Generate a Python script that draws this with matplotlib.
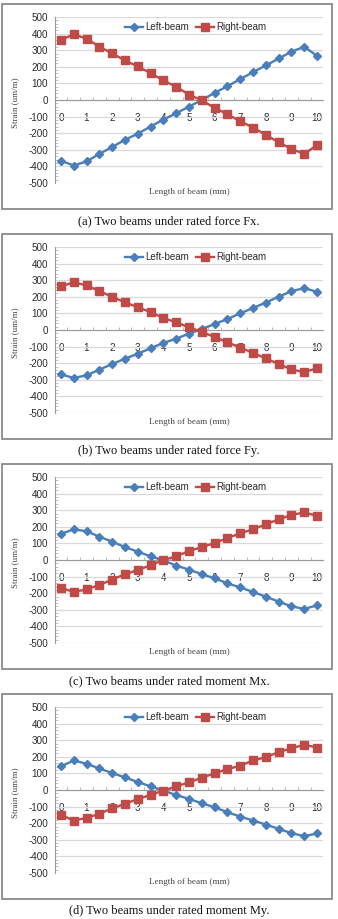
import matplotlib
matplotlib.use("Agg")
import matplotlib.pyplot as plt
from matplotlib.patches import Rectangle
from matplotlib.ticker import MultipleLocator, FixedLocator

# ---------------- data ----------------
positions = [0, 0.5, 1, 1.5, 2, 2.5, 3, 3.5, 4, 4.5, 5, 5.5, 6, 6.5, 7, 7.5, 8, 8.5, 9, 9.5, 10]

fx_left = [-365, -395, -370, -325, -283, -240, -203, -160, -118, -80, -40, 0,
           43, 83, 126, 168, 208, 250, 291, 321, 265]
fx_right = [362, 395, 370, 321, 281, 238, 202, 162, 118, 79, 33, -3,
            -47, -86, -128, -166, -210, -255, -295, -325, -271]

fy_left = [-267, -289, -273, -239, -205, -173, -143, -110, -78, -52, -22, 6,
           36, 66, 100, 133, 165, 201, 233, 253, 229]
fy_right = [263, 287, 269, 235, 199, 167, 137, 108, 72, 46, 16, -12,
            -42, -74, -106, -138, -171, -205, -237, -255, -229]

mx_left = [157, 185, 173, 141, 110, 78, 50, 22, -2, -34, -58, -86,
           -110, -141, -165, -193, -221, -251, -279, -295, -273]
mx_right = [-167, -193, -177, -151, -118, -86, -60, -32, 0, 22, 54, 78,
            102, 132, 161, 185, 215, 245, 271, 287, 265]

my_left = [142, 178, 158, 130, 102, 76, 48, 22, -4, -30, -54, -80,
           -104, -134, -160, -184, -208, -234, -260, -278, -262]
my_right = [-150, -184, -168, -144, -110, -84, -54, -30, -4, 22, 46, 74,
            100, 126, 146, 178, 198, 228, 252, 272, 256]

x_tick_labels = ["0", "1", "2", "3", "4", "5", "6", "7", "8", "9", "10"]
y_ticks = [-500, -400, -300, -200, -100, 0, 100, 200, 300, 400, 500]

series_names = ["Left-beam", "Right-beam"]
captions = ["(a) Two beams under rated force Fx.",
            "(b) Two beams under rated force Fy.",
            "(c) Two beams under rated moment Mx.",
            "(d) Two beams under rated moment My."]
panels = [(fx_left, fx_right), (fy_left, fy_right),
          (mx_left, mx_right), (my_left, my_right)]

y_label = "Strain (um/m)"
x_label = "Length of beam (mm)"

# ---------------- layout ----------------
W, H = 338, 919
fig = plt.figure(figsize=(W / 100, H / 100), dpi=100)

BLUE = "#4a7ebb"
RED = "#be4b48"
SANS = ["Liberation Sans", "DejaVu Sans"]
SERIF = ["Liberation Serif", "DejaVu Serif"]


def fx(px):
    return px / W


def fy(py):
    return 1 - py / H


pitch = 230
for i, ((left, right), cap) in enumerate(zip(panels, captions)):
    o = pitch * i
    # outer frame
    fig.patches.append(Rectangle((fx(1.5), fy(o + 209)), fx(331.5) - fx(1.5),
                                 fy(o + 4) - fy(o + 209), transform=fig.transFigure,
                                 fill=False, edgecolor="#808080", linewidth=1.2))
    ax = fig.add_axes([fx(55), fy(o + 183), fx(323) - fx(55), fy(o + 17) - fy(o + 183)])
    ax.set_xlim(-0.23, 10.23)
    ax.set_ylim(-500, 500)

    ax.plot(positions, left, color=BLUE, lw=1.7, marker="D", ms=3.8,
            label=series_names[0], zorder=3)
    ax.plot(positions, right, color=RED, lw=1.7, marker="s", ms=5.4,
            label=series_names[1], zorder=3)

    # axes styling
    for s in ["top", "right"]:
        ax.spines[s].set_visible(False)
    ax.spines["left"].set_color("#9a9a9a")
    ax.spines["left"].set_linewidth(0.8)
    ax.spines["bottom"].set_position(("data", 0))
    ax.spines["bottom"].set_color("#9a9a9a")
    ax.spines["bottom"].set_linewidth(0.8)

    ax.set_yticks(y_ticks)
    ax.set_yticklabels([str(v) for v in y_ticks], fontsize=7.1, family=SANS,
                       color="#2a2a2a")
    ax.yaxis.set_minor_locator(MultipleLocator(20))
    ax.tick_params(axis="y", which="major", length=0, pad=5.0)
    ax.tick_params(axis="y", which="minor", length=1.8, width=0.5, color="#aaaaaa",
                   direction="in")

    ax.set_xticks(range(len(x_tick_labels)))
    ax.set_xticklabels(x_tick_labels, fontsize=7.1, family=SANS, color="#2a2a2a")
    ax.xaxis.set_minor_locator(FixedLocator([p + 0.25 for p in positions[:-1]]))
    ax.tick_params(axis="x", which="major", length=0, pad=9.2)
    ax.tick_params(axis="x", which="minor", length=2.2, width=0.5, color="#9a9a9a",
                   direction="in")

    ax.grid(axis="y", which="major", color="#d9d9d9", linewidth=0.9, zorder=0)
    ax.set_axisbelow(True)

    ax.legend(loc="center", bbox_to_anchor=(0.526, 0.94), ncol=2, frameon=False,
              prop={"family": SANS, "size": 7.0}, handlelength=1.8,
              handletextpad=0.3, columnspacing=0.7, borderpad=0, labelcolor="#2a2a2a")

    fig.text(fx(15), fy(o + 103), y_label, rotation=90, ha="center", va="center",
             family=SERIF, fontsize=6.4, color="#444444")
    fig.text(fx(189.5), fy(o + 192), x_label, ha="center", va="center",
             family=SERIF, fontsize=6.6, color="#444444")
    fig.text(fx(169), fy(o + 221), cap, ha="center", va="center",
             family=SERIF, fontsize=9, color="#111111")

fig.savefig("out.png", dpi=100)
